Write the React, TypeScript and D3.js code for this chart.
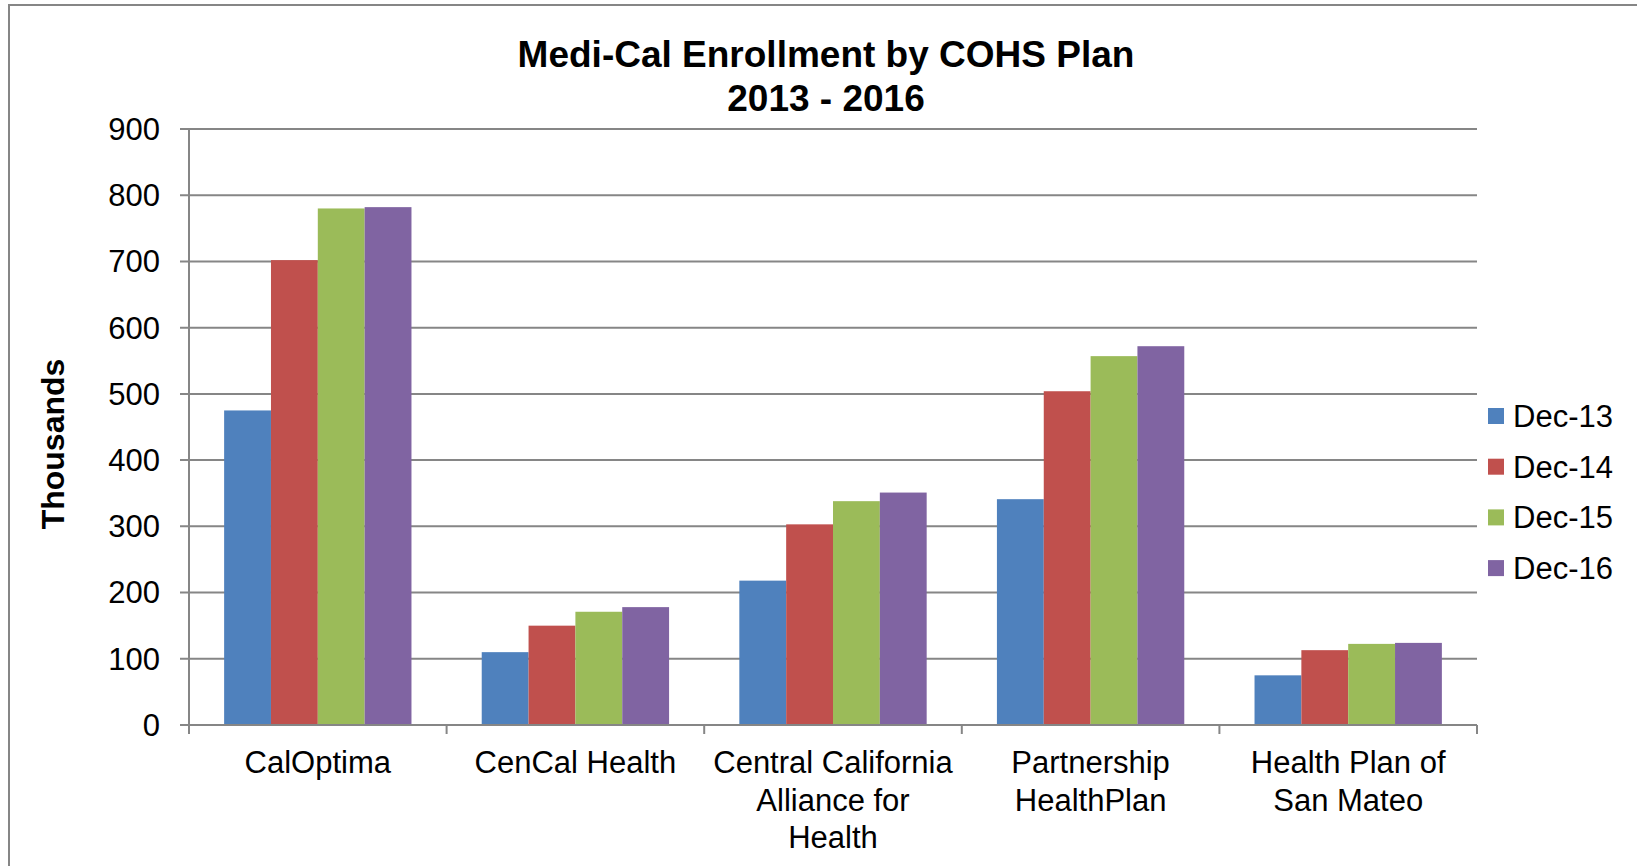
import React from 'react'
import * as d3 from 'd3'

const plans = ['CalOptima', 'CenCal Health', 'Central California Alliance for Health', 'Partnership HealthPlan', 'Health Plan of San Mateo']
const planLines = [
  ['CalOptima'],
  ['CenCal Health'],
  ['Central California', 'Alliance for', 'Health'],
  ['Partnership', 'HealthPlan'],
  ['Health Plan of', 'San Mateo']
]
const seriesNames = ['Dec-13', 'Dec-14', 'Dec-15', 'Dec-16']
const seriesColors = ['#4F81BD', '#C0504D', '#9BBB59', '#8064A2']

// enrollment in thousands, one array per series (same order as plans)
const dec13 = [475, 110, 218, 341, 75]
const dec14 = [702, 150, 303, 504, 113]
const dec15 = [780, 171, 338, 557, 122.5]
const dec16 = [782, 178, 351, 572, 124]
const seriesValues = [dec13, dec14, dec15, dec16]

const yTicks = [0, 100, 200, 300, 400, 500, 600, 700, 800, 900]

const W = 1637
const H = 866
const FONT = '"Liberation Sans", Arial, sans-serif'
const GRID = '#868686'

const App: React.FC = () => {
  const left = 189
  const right = 1477
  const top = 129
  const bottom = 725

  const x = d3.scaleBand<string>().domain(plans).range([left, right]).paddingInner(0).paddingOuter(0)
  const x1 = d3.scaleBand<string>().domain(seriesNames).range([0, x.bandwidth()]).paddingInner(0).paddingOuter(0.75)
  const y = d3.scaleLinear().domain([0, 900]).range([bottom, top])

  const boundaries = plans.map(p => x(p) as number).concat([right])

  return (
    <svg width={W} height={H} style={{ position: 'absolute', left: 0, top: 0, background: '#fff' }} fontFamily={FONT}>
      {/* outer chart border */}
      <rect x={9} y={5} width={W + 10} height={H + 10} fill="none" stroke={GRID} strokeWidth={2} />

      {/* title */}
      <text x={826} y={67} textAnchor="middle" fontSize={37} fontWeight="bold">Medi-Cal Enrollment by COHS Plan</text>
      <text x={826} y={111} textAnchor="middle" fontSize={37} fontWeight="bold">2013 - 2016</text>

      {/* gridlines + y ticks */}
      {yTicks.map(t => (
        <g key={t}>
          <line x1={left - 9} x2={right} y1={y(t)} y2={y(t)} stroke={GRID} strokeWidth={2} />
          <text x={160} y={y(t)} dy="0.35em" textAnchor="end" fontSize={31}>{t}</text>
        </g>
      ))}

      {/* bars */}
      {plans.map((p, i) => (
        <g key={p} transform={`translate(${x(p)},0)`}>
          {seriesNames.map((s, j) => (
            <rect
              key={s}
              x={x1(s)}
              y={y(seriesValues[j][i])}
              width={x1.bandwidth()}
              height={bottom - y(seriesValues[j][i])}
              fill={seriesColors[j]}
            />
          ))}
        </g>
      ))}

      {/* axes */}
      <line x1={left} x2={left} y1={top} y2={bottom} stroke={GRID} strokeWidth={2} />
      <line x1={left - 9} x2={right} y1={bottom} y2={bottom} stroke={GRID} strokeWidth={2} />
      {boundaries.map((b, i) => (
        <line key={i} x1={b} x2={b} y1={bottom} y2={bottom + 9} stroke={GRID} strokeWidth={2} />
      ))}

      {/* category labels */}
      {plans.map((p, i) => (
        <text key={p} x={(x(p) as number) + x.bandwidth() / 2} textAnchor="middle" fontSize={31}>
          {planLines[i].map((ln, k) => (
            <tspan key={k} x={(x(p) as number) + x.bandwidth() / 2} y={773 + k * 37.5}>{ln}</tspan>
          ))}
        </text>
      ))}

      {/* y axis title */}
      <text transform="translate(53,444) rotate(-90)" dy="0.35em" textAnchor="middle" fontSize={32} fontWeight="bold">Thousands</text>

      {/* legend */}
      {seriesNames.map((s, j) => (
        <g key={s} transform={`translate(1488,${408 + j * 50.7})`}>
          <rect x={0} y={0} width={16} height={16} fill={seriesColors[j]} />
          <text x={25} y={8} dy="0.35em" fontSize={31}>{s}</text>
        </g>
      ))}
    </svg>
  )
}

export default App
